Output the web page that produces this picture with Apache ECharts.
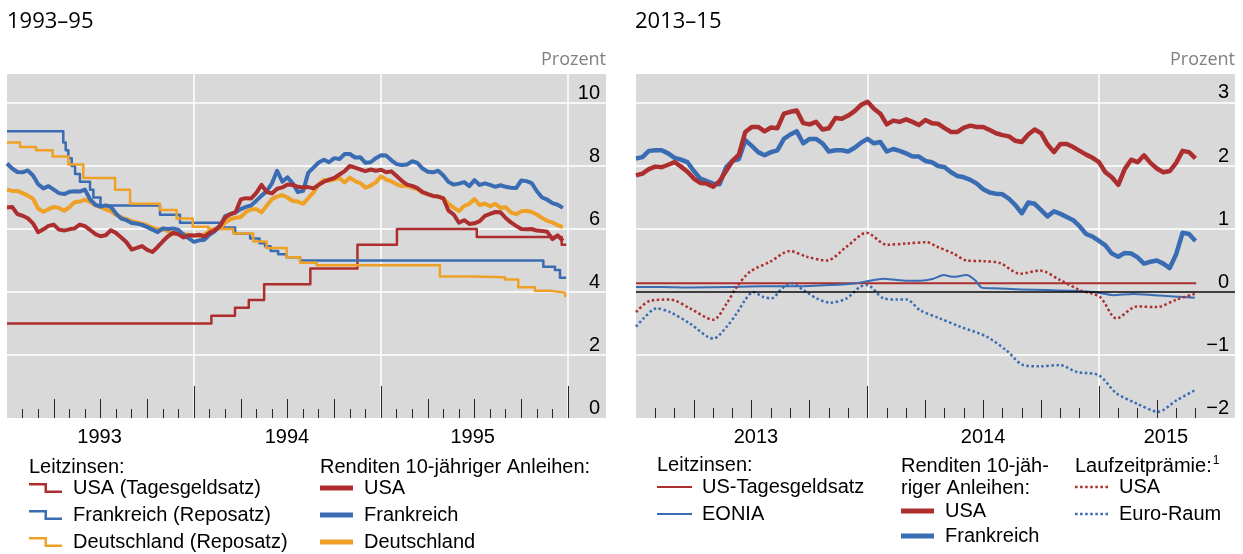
<!DOCTYPE html>
<html>
<head>
<meta charset="utf-8">
<script src="https://cdn.jsdelivr.net/npm/echarts@6/dist/echarts.min.js"></script>
<style>
html, body { margin: 0; padding: 0; background: #fff; }
#chart { width: 1243px; height: 554px; }
</style>
</head>
<body>
<div id="chart"></div>
<script>
// ---- data ----
// 1993-95: policy rates (value changes at the given date, decimal years)
var usRate93 = [[1993.0, 3.0], [1994.093, 3.25], [1994.219, 3.5], [1994.293, 3.75], [1994.375, 4.25],
	[1994.622, 4.75], [1994.874, 5.5], [1995.085, 6.0], [1995.512, 5.75], [1995.966, 5.5], [1995.99, 5.5]];
var frRepo93 = [[1993.0, 9.1], [1993.301, 8.75], [1993.314, 8.5], [1993.328, 8.25], [1993.346, 8.0],
	[1993.364, 7.75], [1993.39, 7.5], [1993.444, 7.25], [1993.462, 7.0], [1993.5, 6.75], [1993.818, 6.45],
	[1993.925, 6.2], [1994.139, 6.05], [1994.22, 5.85], [1994.3, 5.7], [1994.35, 5.55], [1994.38, 5.45],
	[1994.41, 5.3], [1994.45, 5.2], [1994.495, 5.1], [1994.567, 5.0], [1995.868, 4.8], [1995.93, 4.7],
	[1995.957, 4.45], [1995.99, 4.45]];
var deRepo93 = [[1993.0, 8.75], [1993.07, 8.6], [1993.155, 8.5], [1993.244, 8.3], [1993.328, 8.05],
	[1993.408, 7.62], [1993.578, 7.25], [1993.658, 6.8], [1993.818, 6.6], [1993.907, 6.33], [1993.993, 6.07],
	[1994.077, 6.0], [1994.21, 5.86], [1994.317, 5.6], [1994.388, 5.4], [1994.495, 5.1], [1994.567, 4.93],
	[1994.656, 4.85], [1995.315, 4.49], [1995.485, 4.47], [1995.663, 4.4], [1995.734, 4.15], [1995.823, 4.04],
	[1995.904, 3.98], [1995.984, 3.87], [1995.99, 3.87]];

// 1993-95: 10-year yields, one value every 1/36 year from 1993.0
var us10y93 = [6.68, 6.70, 6.47, 6.42, 6.34, 6.18, 5.90, 5.99, 6.10, 6.14,
	5.98, 5.95, 5.99, 6.02, 6.14, 6.09, 5.97, 5.84, 5.77, 5.80,
	5.96, 5.87, 5.73, 5.58, 5.35, 5.40, 5.46, 5.34, 5.27, 5.43,
	5.61, 5.77, 5.88, 5.83, 5.73, 5.80, 5.79, 5.82, 5.76,
	5.88, 5.96, 6.10, 6.36, 6.47, 6.53, 6.94, 6.98, 6.97, 7.15, 7.40,
	7.17, 7.13, 7.28, 7.32, 7.41, 7.40, 7.34, 7.32, 7.33, 7.29,
	7.40, 7.50, 7.57, 7.62, 7.73, 7.84, 8.00, 7.95, 7.89, 7.84,
	7.89, 7.85, 7.88, 7.80, 7.83,
	7.68, 7.53, 7.41, 7.37, 7.30, 7.17, 7.11, 7.05, 7.03, 6.97,
	6.58, 6.46, 6.20, 6.28, 6.16, 6.18, 6.25, 6.42, 6.48, 6.54,
	6.53, 6.35, 6.21, 6.10, 6.00, 5.99, 6.00, 5.95, 5.94, 5.91,
	5.68, 5.80, 5.62];
var fr10y93 = [8.08, 7.92, 7.81, 7.80, 7.86, 7.70, 7.42, 7.29, 7.36, 7.25,
	7.14, 7.11, 7.18, 7.20, 7.19, 7.25, 6.94, 6.77, 6.71, 6.75,
	6.70, 6.49, 6.33, 6.28, 6.19, 6.17, 6.13, 6.06, 5.98, 5.90,
	6.02, 6.00, 6.02, 5.97, 5.82, 5.70, 5.59, 5.64, 5.66,
	5.82, 5.93, 6.10, 6.41, 6.47, 6.53, 6.63, 6.70, 6.75, 6.90, 7.06,
	7.20, 7.45, 7.85, 7.50, 7.64, 7.45, 7.17, 7.21, 7.79, 7.95,
	8.11, 8.20, 8.12, 8.25, 8.22, 8.38, 8.38, 8.27, 8.28, 8.10,
	8.12, 8.25, 8.34, 8.33, 8.18,
	8.06, 8.03, 8.05, 8.15, 8.10, 7.92, 7.82, 7.80, 7.85, 7.70,
	7.49, 7.41, 7.44, 7.49, 7.36, 7.55, 7.40, 7.45, 7.40, 7.34,
	7.39, 7.34, 7.31, 7.30, 7.54, 7.52, 7.46, 7.20, 7.00, 6.93,
	6.82, 6.77, 6.67];
var de10y93 = [7.25, 7.21, 7.21, 7.14, 7.06, 6.96, 6.65, 6.55, 6.63, 6.70,
	6.67, 6.58, 6.69, 6.85, 6.87, 6.93, 6.86, 6.76, 6.69, 6.62,
	6.56, 6.45, 6.37, 6.31, 6.25, 6.21, 6.17, 6.12, 6.04, 5.99,
	5.99, 5.93, 5.84, 5.88, 5.84, 5.81, 5.79, 5.78, 5.83,
	5.93, 6.00, 6.04, 6.20, 6.31, 6.36, 6.38, 6.54, 6.63, 6.63, 6.53,
	6.74, 6.95, 7.03, 7.08, 7.00, 6.89, 6.87, 6.80, 6.98, 7.16,
	7.42, 7.56, 7.53, 7.58, 7.62, 7.48, 7.63, 7.52, 7.46, 7.31,
	7.38, 7.48, 7.67, 7.57, 7.51,
	7.42, 7.36, 7.38, 7.31, 7.27, 7.16, 7.11, 7.05, 7.03, 6.97,
	6.80, 6.68, 6.57, 6.73, 6.80, 6.95, 6.76, 6.81, 6.72, 6.80,
	6.67, 6.69, 6.53, 6.47, 6.56, 6.58, 6.54, 6.46, 6.35, 6.26,
	6.21, 6.12, 6.06];

// 2013-15: 10-year yields, one value every 1/36 year from 2013.0
var us10y13 = [1.85, 1.88, 1.95, 1.99, 1.98, 2.02, 2.06, 1.99, 1.91, 1.80,
	1.73, 1.72, 1.67, 1.76, 1.92, 2.08, 2.18, 2.54, 2.62, 2.62,
	2.55, 2.61, 2.60, 2.83, 2.86, 2.88, 2.68, 2.66, 2.70, 2.58,
	2.60, 2.76, 2.75, 2.80, 2.87, 2.97, 3.02, 2.91, 2.83, 2.66,
	2.72, 2.70, 2.74, 2.70, 2.65, 2.73,
	2.68, 2.67, 2.60, 2.54, 2.54, 2.61, 2.64, 2.62, 2.62, 2.57,
	2.52, 2.49, 2.47, 2.40, 2.38, 2.50, 2.58, 2.52, 2.34, 2.22,
	2.35, 2.35, 2.30, 2.24, 2.18, 2.13, 2.06, 1.90, 1.82, 1.70,
	1.95, 2.10, 2.06, 2.17, 2.05, 1.96, 1.90, 1.92, 2.05, 2.24,
	2.22, 2.12];
var fr10y13 = [2.12, 2.14, 2.24, 2.25, 2.25, 2.20, 2.13, 2.10, 2.06, 1.92,
	1.80, 1.76, 1.72, 1.71, 1.98, 2.08, 2.11, 2.41, 2.32, 2.22,
	2.17, 2.22, 2.25, 2.43, 2.50, 2.55, 2.36, 2.43, 2.43, 2.36,
	2.23, 2.25, 2.25, 2.23, 2.29, 2.37, 2.43, 2.36, 2.38, 2.23,
	2.27, 2.24, 2.20, 2.15, 2.15, 2.08,
	2.06, 2.00, 1.98, 1.90, 1.84, 1.82, 1.78, 1.72, 1.63, 1.58,
	1.56, 1.55, 1.48, 1.38, 1.25, 1.42, 1.40, 1.30, 1.20, 1.28,
	1.24, 1.19, 1.14, 1.04, 0.92, 0.88, 0.81, 0.74, 0.61, 0.56,
	0.62, 0.61, 0.55, 0.45, 0.48, 0.50, 0.45, 0.38, 0.60, 0.94,
	0.92, 0.81];

// 2013-15: policy rates and term premia ([decimal year, percent])
var usRate13 = [[2013.0, 0.14], [2013.5, 0.14], [2014.0, 0.14], [2014.5, 0.14], [2015.0, 0.14], [2015.42, 0.14]];
var eonia13 = [[2013.0, 0.08], [2013.118, 0.08], [2013.233, 0.07], [2013.406, 0.08], [2013.55, 0.09],
	[2013.694, 0.09], [2013.838, 0.11], [2013.953, 0.14], [2014.01, 0.18], [2014.068, 0.21], [2014.126, 0.19],
	[2014.169, 0.18], [2014.227, 0.18], [2014.285, 0.21], [2014.328, 0.27], [2014.371, 0.24], [2014.428, 0.27],
	[2014.464, 0.19], [2014.493, 0.07], [2014.543, 0.06], [2014.659, 0.04], [2014.774, 0.03], [2014.875, 0.02],
	[2014.976, 0.0], [2015.062, -0.05], [2015.148, -0.03], [2015.235, -0.05], [2015.321, -0.07], [2015.414, -0.09]];
var usPremium13 = [[2013.0, -0.32], [2013.06, -0.14], [2013.147, -0.12], [2013.233, -0.26], [2013.334, -0.44],
	[2013.392, -0.18], [2013.435, 0.08], [2013.492, 0.32], [2013.579, 0.48], [2013.665, 0.65], [2013.737, 0.56],
	[2013.824, 0.50], [2013.91, 0.72], [2013.996, 0.94], [2014.083, 0.75], [2014.169, 0.77], [2014.256, 0.79],
	[2014.299, 0.72], [2014.371, 0.61], [2014.428, 0.50], [2014.5, 0.49], [2014.572, 0.46], [2014.659, 0.29],
	[2014.745, 0.34], [2014.832, 0.19], [2014.918, 0.03], [2015.004, -0.08], [2015.076, -0.42], [2015.163, -0.23],
	[2015.249, -0.24], [2015.335, -0.12], [2015.414, -0.03]];
var euPremium13 = [[2013.0, -0.55], [2013.032, -0.42], [2013.089, -0.26], [2013.147, -0.32], [2013.233, -0.50],
	[2013.334, -0.74], [2013.392, -0.55], [2013.435, -0.34], [2013.471, -0.13], [2013.507, 0.0], [2013.55, -0.08],
	[2013.586, -0.10], [2013.629, 0.05], [2013.672, 0.14], [2013.723, 0.03], [2013.78, -0.10], [2013.838, -0.17],
	[2013.91, -0.10], [2013.967, 0.08], [2013.999, 0.11], [2014.068, -0.10], [2014.126, -0.12], [2014.169, -0.12],
	[2014.227, -0.29], [2014.313, -0.42], [2014.4, -0.55], [2014.515, -0.71], [2014.601, -0.93], [2014.673, -1.16],
	[2014.745, -1.18], [2014.832, -1.16], [2014.904, -1.27], [2014.998, -1.32], [2015.076, -1.61], [2015.163, -1.77],
	[2015.256, -1.90], [2015.335, -1.72], [2015.414, -1.56]];

var leftYears = ['1993', '1994', '1995'];
var rightYears = ['2013', '2014', '2015'];

// legend texts (series ids -> shown label)
var labels = {
	usRate93: 'USA (Tagesgeldsatz)', frRepo93: 'Frankreich (Reposatz)', deRepo93: 'Deutschland (Reposatz)',
	us10y93: 'USA', fr10y93: 'Frankreich', de10y93: 'Deutschland',
	usRate13: 'US-Tagesgeldsatz', eonia13: 'EONIA', us10y13: 'USA', fr10y13: 'Frankreich',
	usPremium13: 'USA', euPremium13: 'Euro-Raum'
};

var RED = '#ad2e2e', BLUE = '#3a6cb3', ORANGE = '#eea126';
var FONT = 'Liberation Sans, Arial, Helvetica, sans-serif';
var TFONT = 'Open Sans, Noto Sans, sans-serif';

function regular(start, values) {
	return values.map(function(v, i) { return [start + i / 36, v]; });
}
function monthTicks(start, count, keep) {
	var out = [];
	for (var m = 1; m <= count; m++) if (keep(m)) out.push(start + m / 12);
	return out;
}
function tickAxis(grid, min, max, values, len) {
	return {
		gridIndex: grid, type: 'value', position: 'bottom', min: min, max: max, z: 1,
		axisLine: { show: false }, splitLine: { show: false }, axisLabel: { show: false },
		axisTick: { show: true, inside: true, length: len, customValues: values, lineStyle: { color: '#262626', width: 1 } }
	};
}
function mainX(grid, min, max, labelAt, names) {
	return {
		gridIndex: grid, type: 'value', position: 'bottom', min: min, max: max, interval: 1,
		axisLine: { show: false }, axisTick: { show: false },
		splitLine: { show: true, showMinLine: false, showMaxLine: false, lineStyle: { color: '#fff', width: 1.5 } },
		axisLabel: {
			customValues: labelAt, margin: 9, color: '#000', fontSize: 20, fontFamily: FONT,
			formatter: function(v) { return names.filter(function(n) { return +n === Math.floor(v); })[0]; }
		}
	};
}
function yAxis(grid, min, max, interval, fmt) {
	return {
		gridIndex: grid, type: 'value', position: 'right', min: min, max: max, interval: interval,
		axisLine: { show: false }, axisTick: { show: false },
		splitLine: { show: true, showMinLine: false, showMaxLine: false, lineStyle: { color: '#fff', width: 1.5 } },
		axisLabel: {
			inside: true, align: 'right', verticalAlign: 'bottom', margin: 6, showMaxLabel: false,
			color: '#000', fontSize: 20, fontFamily: FONT, formatter: fmt
		}
	};
}
function line(name, data, color, width, xi, yi, extra) {
	var s = {
		name: name, type: 'line', data: data, xAxisIndex: xi, yAxisIndex: yi,
		showSymbol: false, symbol: 'none', color: color, silent: true,
		lineStyle: { color: color, width: width, join: 'round' }
	};
	for (var k in extra) s[k] = extra[k];
	return s;
}

var stepIcon = 'path://M0,0H18V7.5H33V10H15.5V2.5H0Z';
var thickIcon = 'path://M0,0H33V5H0Z';
var thinIcon = 'path://M0,0H35V2H0Z';
var dotIcon = 'path://M0,0h2.5v2.5h-2.5zM5,0h2.5v2.5h-2.5zM10,0h2.5v2.5h-2.5zM15,0h2.5v2.5h-2.5zM20,0h2.5v2.5h-2.5zM25,0h2.5v2.5h-2.5zM30,0h2.5v2.5h-2.5z';

function legend(names, left, top, icon, w, h, gap, pad) {
	return {
		data: names, left: left, top: top, orient: 'vertical', padding: 0, itemGap: gap,
		itemWidth: w, itemHeight: h, icon: icon, symbolKeepAspect: false, selectedMode: false,
		itemStyle: { borderWidth: 0 },
		formatter: function(n) { return labels[n]; },
		textStyle: { fontSize: 20, lineHeight: 20, color: '#000', fontFamily: FONT, padding: [0, 0, 0, pad] }
	};
}
function text(str, left, top, size, color, family, extra) {
	var t = { text: str, left: left, top: top, padding: 0,
		textStyle: { fontSize: size, lineHeight: size, color: color, fontFamily: family, fontWeight: 'normal' } };
	for (var k in extra) t[k] = extra[k];
	return t;
}

var chart = echarts.init(document.getElementById('chart'), null, { renderer: 'canvas' });
var option = {
	animation: false,
	backgroundColor: '#fff',
	title: [
		text('1993–95', 7, 11, 22, '#000', TFONT),
		text('2013–15', 635, 11, 22, '#000', TFONT),
		{ text: 'Prozent', right: 637, top: 51, padding: 0, textStyle: { fontSize: 18, lineHeight: 18, color: '#808080', fontFamily: TFONT, fontWeight: 'normal' } },
		{ text: 'Prozent', right: 8, top: 51, padding: 0, textStyle: { fontSize: 18, lineHeight: 18, color: '#808080', fontFamily: TFONT, fontWeight: 'normal' } },
		text('Leitzinsen:', 29, 457, 20, '#000', FONT),
		text('Renditen 10-jähriger Anleihen:', 320, 457, 20, '#000', FONT),
		text('Leitzinsen:', 657, 455, 20, '#000', FONT),
		{ text: 'Renditen 10-jäh-\nriger Anleihen:', left: 901, top: 455, padding: 0,
			textStyle: { fontSize: 20, lineHeight: 22, color: '#000', fontFamily: FONT, fontWeight: 'normal' } },
		{ text: '{a|Laufzeitprämie:}{s|1}', left: 1075, top: 455, padding: 0,
			textStyle: { fontWeight: 'normal', rich: {
				a: { fontSize: 20, lineHeight: 22, color: '#000', fontFamily: FONT, fontWeight: 'normal' },
				s: { fontSize: 12, lineHeight: 22, color: '#000', fontFamily: FONT, fontWeight: 'normal', verticalAlign: 'top', padding: [0, 0, 0, 1] }
			} } }
	],
	grid: [
		{ left: 7, top: 74, width: 599, height: 344, show: true, backgroundColor: '#d9d9d9', borderWidth: 0 },
		{ left: 636, top: 74, width: 599, height: 344, show: true, backgroundColor: '#d9d9d9', borderWidth: 0 }
	],
	xAxis: [
		mainX(0, 1993, 1996.203, [1993.495, 1994.497, 1995.49], leftYears),
		tickAxis(0, 1993, 1996.203, monthTicks(1993, 36, function(m) { return m % 3 !== 0; }), 9),
		tickAxis(0, 1993, 1996.203, monthTicks(1993, 36, function(m) { return m % 3 === 0 && m % 12 !== 0; }), 19),
		tickAxis(0, 1993, 1996.203, monthTicks(1993, 36, function(m) { return m % 12 === 0; }), 32),
		mainX(1, 2013, 2015.5875, [2013.518, 2014.499, 2015.289], rightYears),
		tickAxis(1, 2013, 2015.5875, monthTicks(2013, 29, function(m) { return m % 3 !== 0; }), 10),
		tickAxis(1, 2013, 2015.5875, monthTicks(2013, 29, function(m) { return m % 3 === 0 && m % 12 !== 0; }), 18),
		tickAxis(1, 2013, 2015.5875, monthTicks(2013, 29, function(m) { return m % 12 === 0; }), 32)
	],
	yAxis: [
		yAxis(0, 0, 10.921, 2, function(v) { return String(v); }),
		yAxis(1, -2, 3.46, 1, function(v) { return v < 0 ? '\u2212' + Math.abs(v) : String(v); })
	],
	legend: [
		legend(['usRate93', 'frRepo93', 'deRepo93'], 29, 478, stepIcon, 33, 10, 7, 6),
		legend(['us10y93', 'fr10y93', 'de10y93'], 320, 478, thickIcon, 33, 5, 7, 6),
		legend(['usRate13', 'eonia13'], 657, 477, thinIcon, 35, 2, 7, 5),
		legend(['us10y13', 'fr10y13'], 901, 501, thickIcon, 33, 5, 5, 6),
		legend(['usPremium13', 'euPremium13'], 1075, 477, dotIcon, 33, 2.5, 7, 6)
	],
	series: [
		line('usRate93', usRate93, RED, 2.5, 0, 0, { step: 'end' }),
		line('frRepo93', frRepo93, BLUE, 2.5, 0, 0, { step: 'end' }),
		line('deRepo93', deRepo93, ORANGE, 2.5, 0, 0, { step: 'end' }),
		line('de10y93', regular(1993, de10y93), ORANGE, 4, 0, 0),
		line('fr10y93', regular(1993, fr10y93), BLUE, 4, 0, 0),
		line('us10y93', regular(1993, us10y93), RED, 4, 0, 0),
		line('usRate13', usRate13, RED, 2, 4, 1, {
			markLine: { silent: true, symbol: 'none', label: { show: false },
				lineStyle: { color: '#000', width: 1.5, type: 'solid' }, data: [{ yAxis: 0 }] }
		}),
		line('eonia13', eonia13, BLUE, 2, 4, 1, { smooth: 0.2 }),
		line('fr10y13', regular(2013, fr10y13), BLUE, 4.5, 4, 1),
		line('us10y13', regular(2013, us10y13), RED, 4.5, 4, 1),
		line('usPremium13', usPremium13, RED, 2.5, 4, 1, { smooth: 0.3 }),
		line('euPremium13', euPremium13, BLUE, 2.5, 4, 1, { smooth: 0.3 })
	]
};
// dotted style for the term premia
option.series[10].lineStyle.type = [2.5, 2.5];
option.series[11].lineStyle.type = [2.5, 2.5];
chart.setOption(option);
</script>
</body>
</html>
